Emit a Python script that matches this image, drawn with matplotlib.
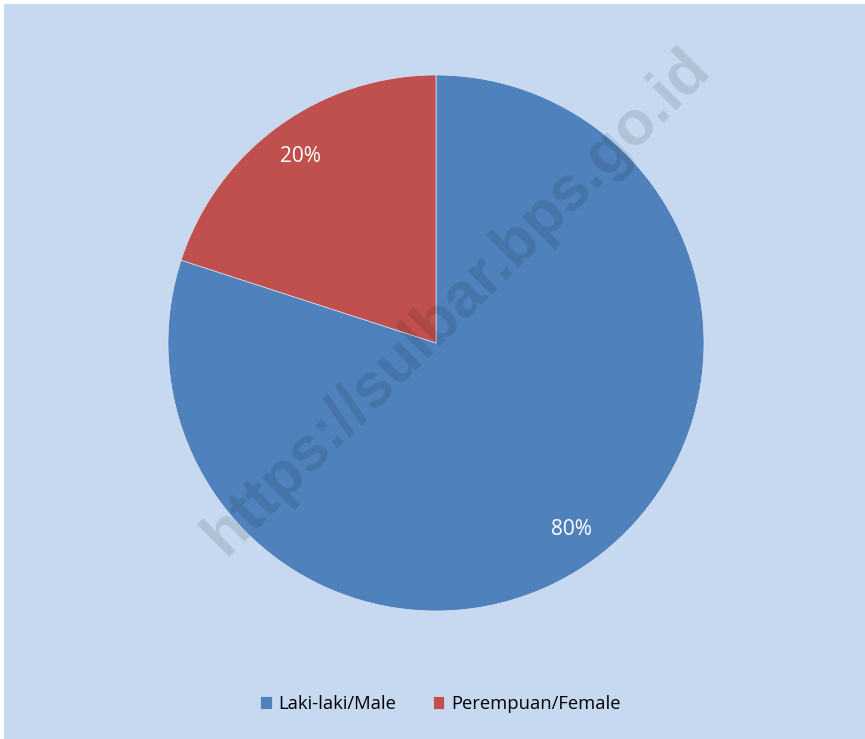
import matplotlib
matplotlib.use("Agg")
import matplotlib.pyplot as plt
from matplotlib.patches import Rectangle

categories = ["Laki-laki/Male", "Perempuan/Female"]
values = [80, 20]
colors = ["#4F81BD", "#C0504D"]
watermark = "https://sulbar.bps.go.id"

plt.rcParams['font.family'] = ['Open Sans', 'DejaVu Sans']

W, H = 865, 739
fig = plt.figure(figsize=(W/100, H/100), dpi=100)
fig.patch.set_facecolor("white")
fig.add_artist(Rectangle((4/W, 0), 1 - 4/W, 1 - 4/H, transform=fig.transFigure,
                         facecolor="#C6D9F1", edgecolor="none", zorder=0))

# pie centre (436,343), radius 268 px
r = 268
cx, cy = 436, 343
ax = fig.add_axes([(cx - r)/W, (H - cy - r)/H, 2*r/W, 2*r/H])
ax.set_facecolor("none")
wedges, texts = ax.pie(values, colors=colors, startangle=90, counterclock=False,
                       labels=[f"{v}%" for v in values], labeldistance=0.86,
                       wedgeprops=dict(edgecolor="#D9E3F0", linewidth=0.5),
                       textprops=dict(color="white", fontsize=15))
for t in texts:
    t.set_ha("center")
    t.set_va("center")
ax.set_xlim(-1, 1)
ax.set_ylim(-1, 1)
ax.set_aspect("equal")

fig.text(457/W, 1 - 302/H, watermark, rotation=45, ha="center", va="center",
         fontsize=45, fontweight="bold", color="black", alpha=0.11,
         family=["Liberation Sans", "DejaVu Sans"], zorder=10)

fig.legend(wedges, categories, loc="center", bbox_to_anchor=(440/W, 1 - 704/H),
           ncol=2, frameon=False, fontsize=13.2, handlelength=0.65, handleheight=0.65,
           handletextpad=0.35, columnspacing=2.0)

fig.savefig("out.png", dpi=100)
